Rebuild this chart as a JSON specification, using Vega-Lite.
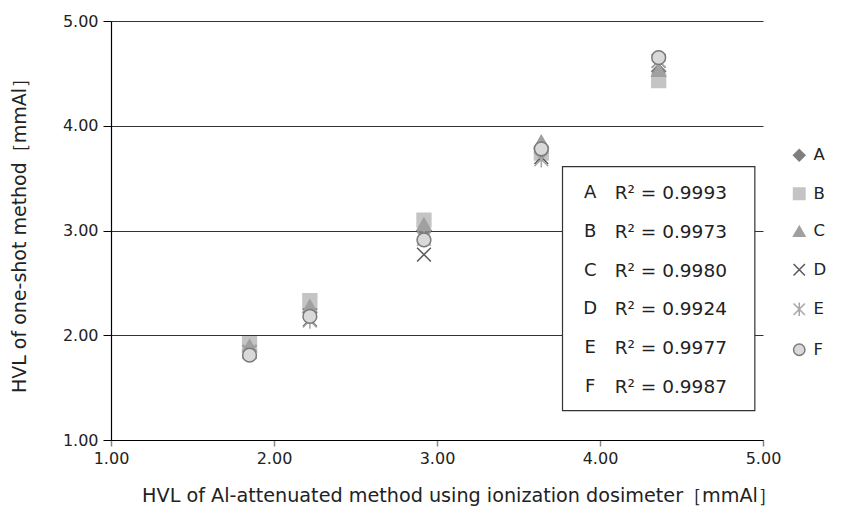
{
  "$schema": "https://vega.github.io/schema/vega-lite/v6.json",
  "width": 652,
  "height": 419,
  "autosize": {"type": "none"},
  "padding": {"left": 111, "top": 21, "right": 102, "bottom": 74},
  "background": "white",
  "config": {
    "font": "DejaVu Sans",
    "view": {"stroke": null},
    "axis": {"labelFont": "DejaVu Sans", "titleFont": "DejaVu Sans", "labelColor": "#222", "titleColor": "#222", "titleFontWeight": "normal", "labelFlush": false}
  },
  "datasets": {
    "pts": [
      {"series": "A", "x": 1.85, "y": 1.86},
      {"series": "A", "x": 2.22, "y": 2.25},
      {"series": "A", "x": 2.92, "y": 3.00},
      {"series": "A", "x": 3.64, "y": 3.78},
      {"series": "A", "x": 4.36, "y": 4.52},
      {"series": "B", "x": 1.85, "y": 1.92},
      {"series": "B", "x": 2.22, "y": 2.33},
      {"series": "B", "x": 2.92, "y": 3.10},
      {"series": "B", "x": 3.64, "y": 3.74},
      {"series": "B", "x": 4.36, "y": 4.43},
      {"series": "C", "x": 1.85, "y": 1.90},
      {"series": "C", "x": 2.22, "y": 2.28},
      {"series": "C", "x": 2.92, "y": 3.06},
      {"series": "C", "x": 3.64, "y": 3.85},
      {"series": "C", "x": 4.36, "y": 4.53},
      {"series": "D", "x": 1.85, "y": 1.84},
      {"series": "D", "x": 2.22, "y": 2.15},
      {"series": "D", "x": 2.92, "y": 2.77},
      {"series": "D", "x": 3.64, "y": 3.70},
      {"series": "D", "x": 4.36, "y": 4.62},
      {"series": "E", "x": 1.85, "y": 1.84},
      {"series": "E", "x": 2.22, "y": 2.14},
      {"series": "E", "x": 2.92, "y": 2.92},
      {"series": "E", "x": 3.64, "y": 3.68},
      {"series": "E", "x": 4.36, "y": 4.62},
      {"series": "F", "x": 1.85, "y": 1.81},
      {"series": "F", "x": 2.22, "y": 2.18},
      {"series": "F", "x": 2.92, "y": 2.91},
      {"series": "F", "x": 3.64, "y": 3.78},
      {"series": "F", "x": 4.36, "y": 4.65}
    ],
    "r2": [
      {"series": "A", "r2": "0.9993"},
      {"series": "B", "r2": "0.9973"},
      {"series": "C", "r2": "0.9980"},
      {"series": "D", "r2": "0.9924"},
      {"series": "E", "r2": "0.9977"},
      {"series": "F", "r2": "0.9987"}
    ]
  },
  "resolve": {"scale": {"y": "independent"}, "axis": {"y": "independent"}},
  "layer": [
    {
      "data": {"name": "pts"},
      "mark": {"type": "point", "filled": true, "size": 190, "strokeWidth": 1.5, "opacity": 1},
      "encoding": {
        "x": {
          "field": "x", "type": "quantitative",
          "scale": {"domain": [1, 5], "nice": false, "zero": false},
          "axis": {
            "values": [1, 2, 3, 4, 5], "format": ".2f", "grid": false,
            "domainColor": "#000", "domainWidth": 1.2, "tickColor": "#888", "tickSize": 6, "tickWidth": 1.5,
            "labelFontSize": 16, "labelPadding": 4,
            "title": "HVL of Al-attenuated method using ionization dosimeter［mmAl］",
            "titleFontSize": 19.2, "titlePadding": 20, "titleX": 348
          }
        },
        "y": {
          "field": "y", "type": "quantitative",
          "scale": {"domain": [1, 5], "nice": false, "zero": false},
          "axis": {
            "values": [1, 2, 3, 4, 5], "format": ".2f", "grid": true, "gridColor": "#333", "gridWidth": 1.2,
            "domainColor": "#000", "domainWidth": 1.2, "tickColor": "#000", "tickSize": 8,
            "labelFontSize": 16, "labelPadding": 5,
            "title": "HVL of one-shot method［mmAl］",
            "titleFontSize": 19, "titlePadding": 33
          }
        },
        "shape": {
          "field": "series", "type": "nominal",
          "scale": {"domain": ["A", "B", "C", "D", "E", "F"], "range": ["diamond", "square", "triangle-up", "M-1,-1L1,1M-1,1L1,-1", "M-1,-1L1,1M-1,1L1,-1M0,-1.2L0,1.2", "circle"]},
          "legend": {"title": null, "orient": "none", "legendX": 680, "legendY": 126, "labelFontSize": 16.5, "labelColor": "#222", "symbolSize": 130, "symbolStrokeWidth": 1.5, "rowPadding": 20.5, "labelOffset": 6}
        },
        "fill": {
          "field": "series", "type": "nominal",
          "scale": {"domain": ["A", "B", "C", "D", "E", "F"], "range": ["#7f7f7f", "#c4c4c4", "#a0a0a0", "transparent", "transparent", "#d9d9d9"]},
          "legend": {"title": null, "orient": "none", "legendX": 680, "legendY": 126, "labelFontSize": 16.5, "labelColor": "#222", "symbolSize": 130, "symbolStrokeWidth": 1.5, "rowPadding": 20.5, "labelOffset": 6}
        },
        "stroke": {
          "field": "series", "type": "nominal",
          "scale": {"domain": ["A", "B", "C", "D", "E", "F"], "range": ["#7f7f7f", "#c4c4c4", "#a0a0a0", "#595959", "#a6a6a6", "#7a7a7a"]},
          "legend": {"title": null, "orient": "none", "legendX": 680, "legendY": 126, "labelFontSize": 16.5, "labelColor": "#222", "symbolSize": 130, "symbolStrokeWidth": 1.5, "rowPadding": 20.5, "labelOffset": 6}
        }
      }
    },
    {
      "data": {"values": [{}]},
      "mark": {"type": "rect", "fill": "white", "stroke": "#333", "strokeWidth": 1.2},
      "encoding": {
        "x": {"datum": 3.77, "type": "quantitative"},
        "x2": {"datum": 4.95},
        "y": {"datum": 3.61, "type": "quantitative", "scale": {"domain": [1, 5], "nice": false, "zero": false}, "axis": null},
        "y2": {"datum": 1.28}
      }
    },
    {
      "data": {"name": "r2"},
      "mark": {"type": "text", "fontSize": 18, "align": "center", "baseline": "middle", "color": "#222"},
      "encoding": {
        "x": {"datum": 3.94, "type": "quantitative"},
        "y": {"field": "series", "type": "ordinal", "scale": {"type": "point", "padding": 0, "domain": ["A", "B", "C", "D", "E", "F"], "range": [172, 366]}, "axis": null},
        "text": {"field": "series"}
      }
    },
    {
      "data": {"name": "r2"},
      "transform": [{"calculate": "'R² = ' + datum.r2", "as": "label"}],
      "mark": {"type": "text", "fontSize": 18.5, "align": "left", "baseline": "middle", "color": "#222"},
      "encoding": {
        "x": {"datum": 4.09, "type": "quantitative"},
        "y": {"field": "series", "type": "ordinal", "scale": {"type": "point", "padding": 0, "domain": ["A", "B", "C", "D", "E", "F"], "range": [172, 366]}, "axis": null},
        "text": {"field": "label"}
      }
    }
  ]
}
